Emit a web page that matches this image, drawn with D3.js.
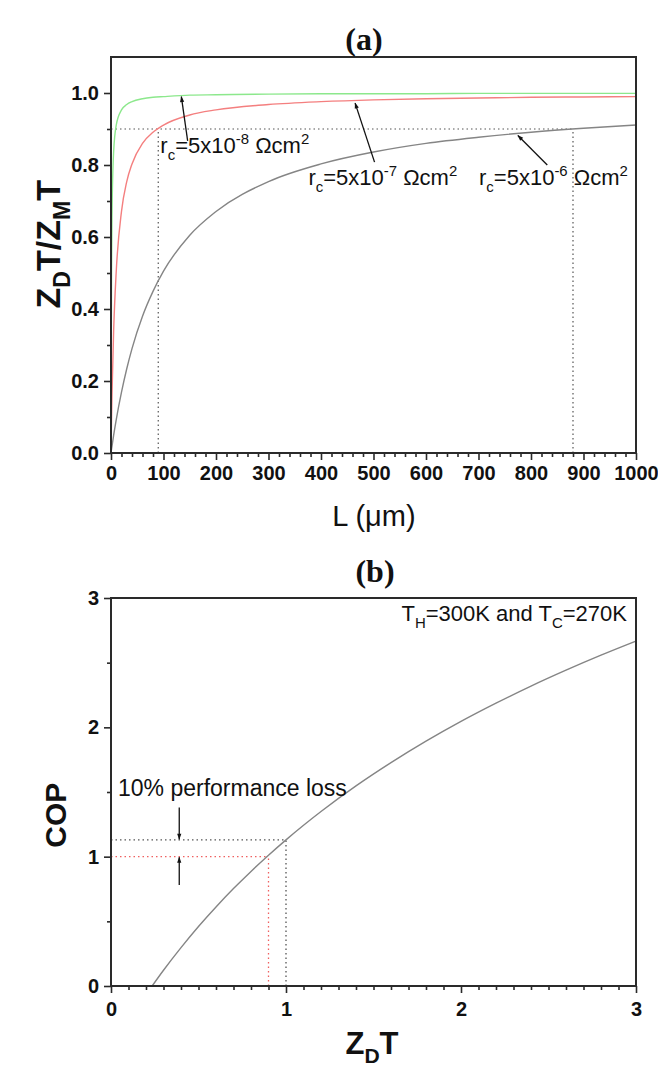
<!DOCTYPE html>
<html>
<head>
<meta charset="utf-8">
<script src="https://cdn.jsdelivr.net/npm/d3@7"></script>
<style>
  body { margin: 0; background: #fff; }
  text { font-family: Arial, "Liberation Sans", sans-serif; fill: #111; }
</style>
</head>
<body>
<div id="chart"></div>
<script>
// ---- panel (a) data: Z_D T / Z_M T vs contact length L (um)
const lengths = [0, 1, 2, 5, 10, 20, 30, 40, 60, 80, 100, 150, 200, 300, 400, 500, 600, 700, 800, 900, 1000];
const ratioRc8 = [0, 0.505, 0.671, 0.836, 0.911, 0.953, 0.968, 0.976, 0.984, 0.988, 0.990, 0.994, 0.995, 0.997, 0.998, 0.998, 0.998, 0.999, 0.999, 0.999, 0.999];
const ratioRc7 = [0, 0.093, 0.169, 0.338, 0.505, 0.671, 0.754, 0.803, 0.860, 0.891, 0.911, 0.939, 0.953, 0.968, 0.976, 0.981, 0.984, 0.986, 0.988, 0.989, 0.990];
const ratioRc6 = [0, 0.010, 0.020, 0.049, 0.093, 0.169, 0.234, 0.290, 0.380, 0.449, 0.505, 0.605, 0.671, 0.754, 0.803, 0.836, 0.860, 0.877, 0.891, 0.902, 0.911];
const aXTicks = [0, 100, 200, 300, 400, 500, 600, 700, 800, 900, 1000];
const aYTicks = [0, 0.2, 0.4, 0.6, 0.8, 1.0];

// ---- panel (b) data: COP vs Z_D T
const ztVals = [0.235, 0.3, 0.4, 0.5, 0.6, 0.7, 0.8, 0.9, 1.0, 1.2, 1.4, 1.6, 1.8, 2.0, 2.2, 2.4, 2.6, 2.8, 3.0];
const copVals = [0, 0.122, 0.297, 0.460, 0.611, 0.753, 0.886, 1.011, 1.130, 1.349, 1.547, 1.727, 1.893, 2.046, 2.187, 2.319, 2.442, 2.558, 2.667];
const bXTicks = [0, 1, 2, 3];
const bYTicks = [0, 1, 2, 3];

const width = 658, height = 1072;
const svg = d3.select("#chart").append("svg")
    .attr("width", width)
    .attr("height", height);

const frameColor = "#2a2a2a";
const tickFont = 20;

// helper for text with sub/superscripts
function rich(sel, parts, fs) {
    let shift = 0;
    parts.forEach(function(p) {
        let target = p[1] === "sub" ? fs * 0.3 : p[1] === "sup" ? -fs * 0.42 : 0;
        sel.append("tspan")
            .attr("dy", target - shift)
            .style("font-size", p[1] === "n" ? fs + "px" : (fs * 0.68) + "px")
            .text(p[0]);
        shift = target;
    });
}

function arrow(g, x1, y1, x2, y2) {
    g.append("line")
        .attr("x1", x1).attr("y1", y1).attr("x2", x2).attr("y2", y2)
        .attr("stroke", "#111").attr("stroke-width", 1.3)
        .attr("marker-end", "url(#head)");
}

svg.append("defs").append("marker")
    .attr("id", "head")
    .attr("viewBox", "0 0 10 10")
    .attr("refX", 9).attr("refY", 5)
    .attr("markerWidth", 9).attr("markerHeight", 6)
    .attr("markerUnits", "userSpaceOnUse")
    .attr("orient", "auto")
    .append("path").attr("d", "M0,1.5 L10,5 L0,8.5 Z").attr("fill", "#111");

// =================== panel (a)
let xa = d3.scaleLinear().domain([0, 1000]).range([111, 636]);
let ya = d3.scaleLinear().domain([0, 1.1]).range([453, 57]);

let ga = svg.append("g");

// minor ticks
ga.append("g")
    .attr("transform", `translate(0, ${ya(0)})`)
    .call(d3.axisBottom(xa).tickValues(d3.range(20, 1000, 20).filter(d => d % 100 !== 0)).tickSize(4).tickFormat(""))
    .call(g => g.select(".domain").remove());
ga.append("g")
    .attr("transform", `translate(${xa(0)}, 0)`)
    .call(d3.axisLeft(ya).tickValues([0.1, 0.3, 0.5, 0.7, 0.9]).tickSize(4).tickFormat(""))
    .call(g => g.select(".domain").remove());

let axA = ga.append("g")
    .attr("transform", `translate(0, ${ya(0)})`)
    .call(d3.axisBottom(xa).tickValues(aXTicks).tickSize(7).tickPadding(6).tickFormat(d3.format("d")));
axA.select(".domain").remove();
let ayA = ga.append("g")
    .attr("transform", `translate(${xa(0)}, 0)`)
    .call(d3.axisLeft(ya).tickValues(aYTicks).tickSize(7).tickPadding(5).tickFormat(d3.format(".1f")));
ayA.select(".domain").remove();

// dotted guides
const dotA = [[0, 0.9, 880, 0.9], [90, 0, 90, 0.9], [880, 0, 880, 0.9]];
dotA.forEach(function(d) {
    ga.append("line")
        .attr("x1", xa(d[0])).attr("y1", ya(d[1])).attr("x2", xa(d[2])).attr("y2", ya(d[3]))
        .attr("stroke", "#555").attr("stroke-width", 1.2).attr("stroke-dasharray", "1.5,3");
});

let lineA = d3.line().x((d, i) => xa(lengths[i])).y(d => ya(d)).curve(d3.curveMonotoneX);
[[ratioRc6, "#858585"], [ratioRc7, "#f47f7f"], [ratioRc8, "#8ce88c"]].forEach(function(s) {
    ga.append("path").datum(s[0])
        .attr("fill", "none").attr("stroke", s[1]).attr("stroke-width", 1.4)
        .attr("d", lineA);
});

ga.append("rect")
    .attr("x", xa(0)).attr("y", ya(1.1))
    .attr("width", xa(1000) - xa(0)).attr("height", ya(0) - ya(1.1))
    .attr("fill", "none").attr("stroke", frameColor).attr("stroke-width", 2);

// annotations
const labelsA = [["8", 94, 0.833], ["7", 376, 0.744], ["6", 701, 0.744]];
labelsA.forEach(function(d) {
    let t = ga.append("text").attr("x", xa(d[1])).attr("y", ya(d[2]));
    rich(t, [["r", "n"], ["c", "sub"], ["=5x10", "n"], ["-" + d[0], "sup"], [" \u03A9cm", "n"], ["2", "sup"]], 22);
});
arrow(ga, xa(146), ya(0.867), xa(134), ya(0.99));
arrow(ga, xa(502), ya(0.808), xa(465), ya(0.972));
arrow(ga, xa(831), ya(0.80), xa(775), ya(0.882));

ga.append("text")
    .attr("x", 364).attr("y", 50)
    .attr("text-anchor", "middle")
    .style("font-family", "'Liberation Serif', 'Times New Roman', serif")
    .style("font-weight", "bold").style("font-size", "32px")
    .text("(a)");

ga.append("text")
    .attr("x", 374).attr("y", 526)
    .attr("text-anchor", "middle")
    .style("font-size", "29px")
    .text("L (\u03BCm)");

let ylabA = ga.append("text")
    .attr("transform", `translate(60, ${ya(0.58)}) rotate(-90)`)
    .attr("text-anchor", "middle")
    .style("font-weight", "bold");
rich(ylabA, [["Z", "n"], ["D", "sub"], ["T/Z", "n"], ["M", "sub"], ["T", "n"]], 34);

// =================== panel (b)
let xb = d3.scaleLinear().domain([0, 3]).range([111, 636]);
let yb = d3.scaleLinear().domain([0, 3]).range([986, 598]);

let gb = svg.append("g");

gb.append("g")
    .attr("transform", `translate(0, ${yb(0)})`)
    .call(d3.axisBottom(xb).tickValues(d3.range(1, 30).filter(d => d % 10 !== 0).map(d => d / 10)).tickSize(4).tickFormat(""))
    .call(g => g.select(".domain").remove());
gb.append("g")
    .attr("transform", `translate(${xb(0)}, 0)`)
    .call(d3.axisLeft(yb).tickValues([0.5, 1.5, 2.5]).tickSize(4).tickFormat(""))
    .call(g => g.select(".domain").remove());

let axB = gb.append("g")
    .attr("transform", `translate(0, ${yb(0)})`)
    .call(d3.axisBottom(xb).tickValues(bXTicks).tickSize(7).tickPadding(9).tickFormat(d3.format("d")));
axB.select(".domain").remove();
let ayB = gb.append("g")
    .attr("transform", `translate(${xb(0)}, 0)`)
    .call(d3.axisLeft(yb).tickValues(bYTicks).tickSize(7).tickPadding(5).tickFormat(d3.format("d")));
ayB.select(".domain").remove();

const dotB = [[0, 1.13, 1.0, 1.13, "#555"], [1.0, 0, 1.0, 1.13, "#555"], [0, 1.0, 0.9, 1.0, "#f06060"], [0.9, 0, 0.9, 1.0, "#f06060"]];
dotB.forEach(function(d) {
    gb.append("line")
        .attr("x1", xb(d[0])).attr("y1", yb(d[1])).attr("x2", xb(d[2])).attr("y2", yb(d[3]))
        .attr("stroke", d[4]).attr("stroke-width", 1.3).attr("stroke-dasharray", "1.5,3");
});

let lineB = d3.line().x((d, i) => xb(ztVals[i])).y(d => yb(d)).curve(d3.curveMonotoneX);
gb.append("path").datum(copVals)
    .attr("fill", "none").attr("stroke", "#858585").attr("stroke-width", 1.4)
    .attr("d", lineB);

gb.append("rect")
    .attr("x", xb(0)).attr("y", yb(3))
    .attr("width", xb(3) - xb(0)).attr("height", yb(0) - yb(3))
    .attr("fill", "none").attr("stroke", frameColor).attr("stroke-width", 2);

arrow(gb, xb(0.39), yb(1.38), xb(0.39), yb(1.135));
arrow(gb, xb(0.39), yb(0.78), xb(0.39), yb(0.995));

gb.append("text")
    .attr("x", xb(0.04)).attr("y", yb(1.47))
    .style("font-size", "23px")
    .text("10% performance loss");

let tAnn = gb.append("text")
    .attr("x", 627).attr("y", 621)
    .attr("text-anchor", "end");
rich(tAnn, [["T", "n"], ["H", "sub"], ["=300K and T", "n"], ["C", "sub"], ["=270K", "n"]], 22);

gb.append("text")
    .attr("x", 375).attr("y", 582)
    .attr("text-anchor", "middle")
    .style("font-family", "'Liberation Serif', 'Times New Roman', serif")
    .style("font-weight", "bold").style("font-size", "32px")
    .text("(b)");

let xlabB = gb.append("text")
    .attr("x", 372).attr("y", 1054)
    .attr("text-anchor", "middle")
    .style("font-weight", "bold");
rich(xlabB, [["Z", "n"], ["D", "sub"], ["T", "n"]], 31);

gb.append("text")
    .attr("transform", `translate(66, ${yb(1.32)}) rotate(-90)`)
    .attr("text-anchor", "middle")
    .style("font-weight", "bold").style("font-size", "30px")
    .text("COP");

// tick label styling
svg.selectAll(".tick text")
    .style("font-size", tickFont + "px")
    .style("font-weight", "bold")
    .style("font-family", "Arial, 'Liberation Sans', sans-serif")
    .attr("fill", "#111");
svg.selectAll(".tick line").attr("stroke", frameColor).attr("stroke-width", 1.6);
</script>
</body>
</html>
